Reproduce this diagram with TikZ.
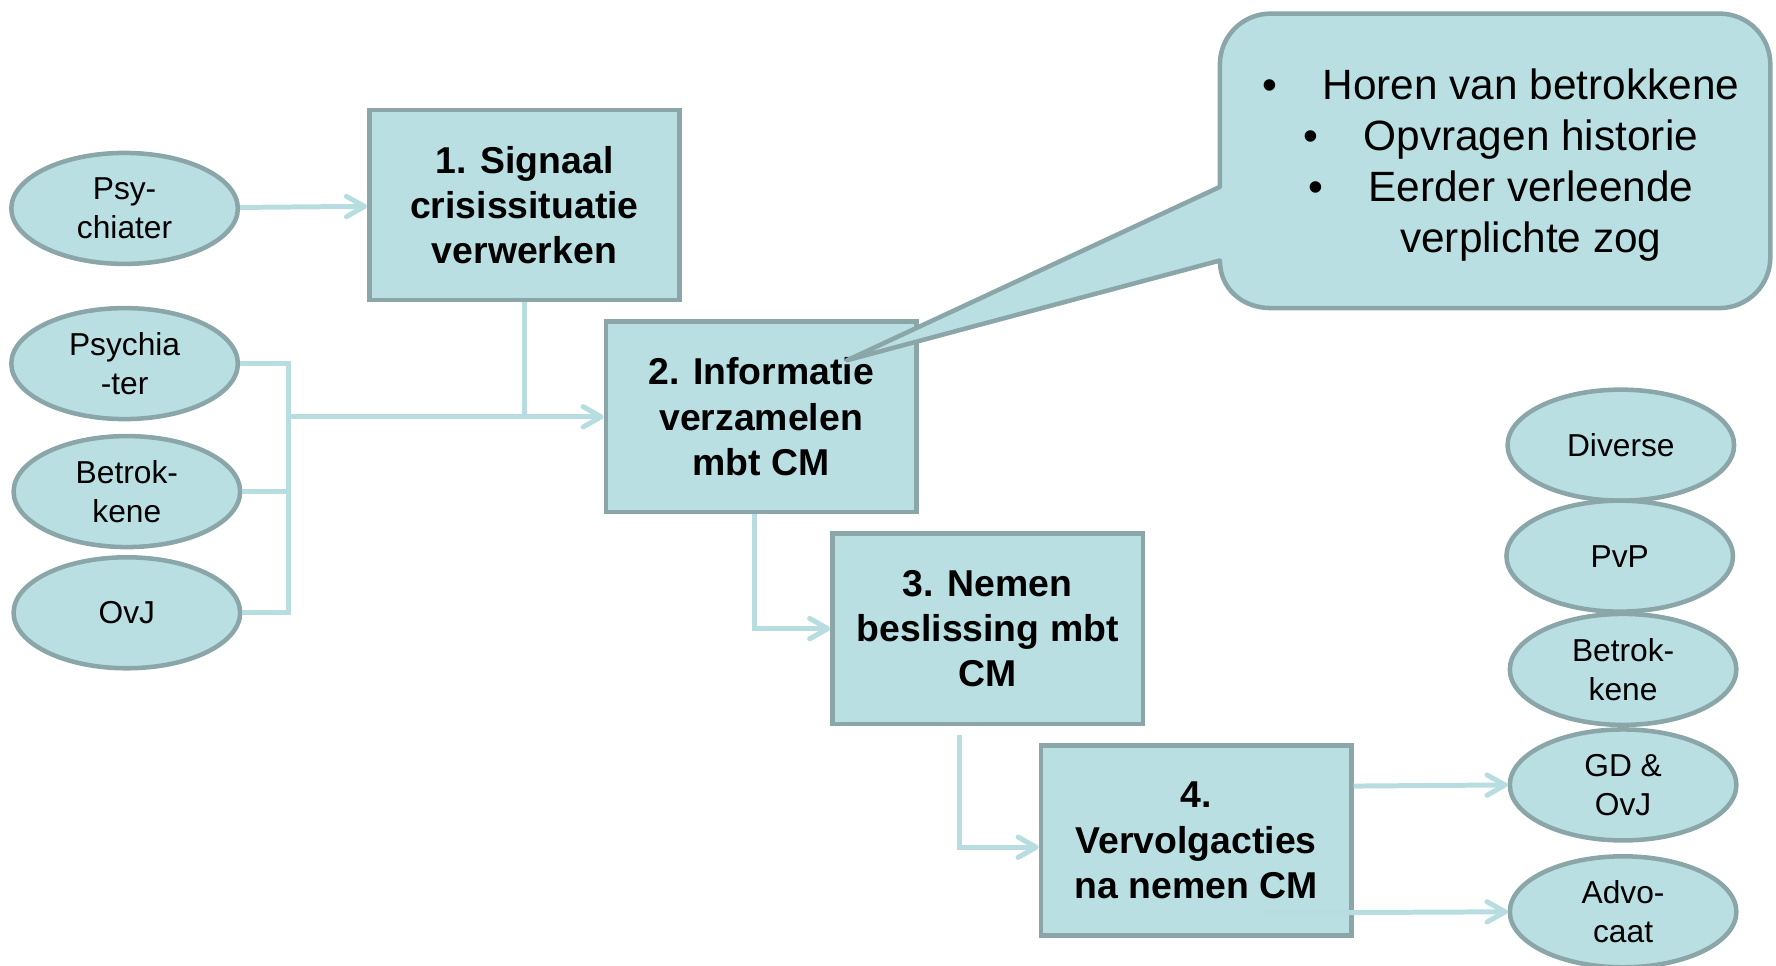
\documentclass[tikz,border=0pt]{standalone}
\usepackage{fontspec}
\setmainfont{Liberation Sans}
\usetikzlibrary{shapes.geometric,arrows.meta}

\definecolor{cmfill}{RGB}{185,223,227}
\definecolor{cmborder}{RGB}{138,166,168}
\definecolor{cmline}{RGB}{183,221,224}

\begin{document}
\begin{tikzpicture}[x=0.5pt,y=-0.5pt]
  \tikzstyle{stap} = [rectangle, draw=cmborder, fill=cmfill, line width=2pt,
  minimum width=137pt, minimum height=84pt, inner sep=0pt, align=center,
  font=\fontsize{16.5}{20}\selectfont\bfseries]
  \tikzstyle{actor} = [ellipse, draw=cmborder, fill=cmfill, line width=2pt,
  minimum width=100pt, minimum height=49pt, inner sep=0pt, align=center,
  font=\fontsize{14}{17}\selectfont]
  \tikzstyle{conn} = [draw=cmline, line width=2.2pt]
  \tikzstyle{pijl} = [conn, -{Straight Barb[length=8pt,width=9pt,round]}]

  \useasboundingbox (0,0) rectangle (1568,852);
  \clip (0,0) rectangle (1568,852);

  % Define nodes
  \node[stap] (signaal) at (463,181) {1. Signaal\\crisissituatie\\verwerken};
  \node[stap] (info) at (672,368) {2. Informatie\\verzamelen\\mbt CM};
  \node[stap] (beslis) at (872,555) {3. Nemen\\beslissing mbt\\CM};
  \node[stap] (vervolg) at (1056,742) {4.\\Vervolgacties\\na nemen CM};

  \node[actor] (psy) at (110,184) {Psy-\\chiater};
  \node[actor] (psych) at (110,321) {Psychia\\-ter};
  \node[actor] (betrL) at (112,434) {Betrok-\\kene};
  \node[actor] (ovjL) at (112,541) {OvJ};

  \node[actor] (diverse) at (1431,393) {Diverse};
  \node[actor] (pvp) at (1430,491) {PvP};
  \node[actor] (betrR) at (1433,591) {Betrok-\\kene};
  \node[actor] (gdovj) at (1433,693) {GD \&\\OvJ};
  \node[actor] (advo) at (1433,805) {Advo-\\caat};

  % Connectors
  \coordinate (knoop) at (255,368);
  \draw[pijl] (psy) -- (signaal);
  \draw[conn] (psych.east) -| (knoop);
  \draw[conn] (betrL.east) -| (knoop);
  \draw[conn] (ovjL.east) -| (knoop);
  \draw[conn] (signaal.south) -- (signaal.south |- knoop);
  \draw[pijl] (knoop) -- (info.west);
  \draw[pijl] ([xshift=-3pt]info.south) |- (beslis.west);
  \draw[pijl] ([xshift=-12.5pt,yshift=-4pt]beslis.south) |- ([yshift=-3pt]vervolg.west);
  \draw[pijl] ([yshift=24pt]vervolg.east) -- (gdovj.west);
  \draw[pijl] ([xshift=-39pt,yshift=-32pt]vervolg.east) -- (advo.west);

  % Callout
  \draw[draw=cmborder, fill=cmfill, line width=2pt, line join=round]
    (748,318) -- (1077,230) .. controls (1077,255) and (1097,272) .. (1122,272)
    -- (1518,272) .. controls (1543,272) and (1563,252) .. (1563,227)
    -- (1563,57) .. controls (1563,32) and (1543,12) .. (1518,12)
    -- (1122,12) .. controls (1097,12) and (1077,32) .. (1077,57)
    -- (1077,165) -- cycle;
  \node[font=\fontsize{18.7}{22.5}\selectfont, align=center] (lijst) at (1325,146)
    {\textbullet\hspace{20pt}Horen van betrokkene\\
     \textbullet\hspace{20pt}Opvragen historie\\
     \textbullet\hspace{20pt}Eerder verleende\\
     \phantom{\textbullet\hspace{20pt}}verplichte zog};
\end{tikzpicture}
\end{document}
